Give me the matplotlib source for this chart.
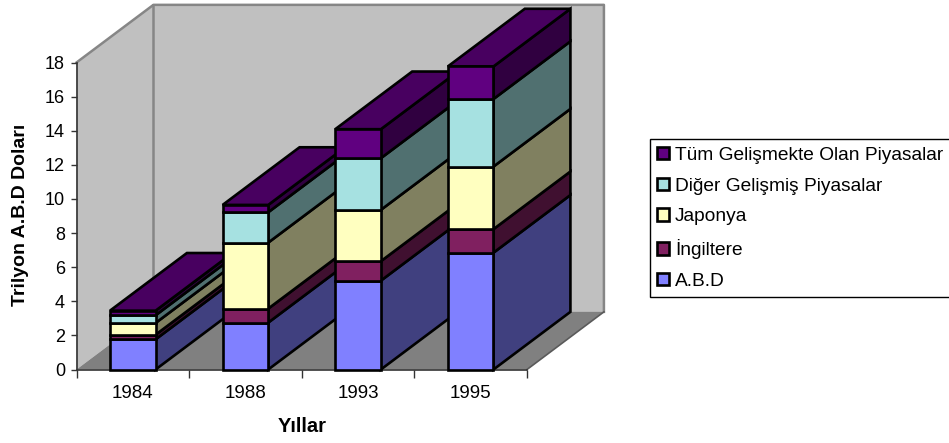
import numpy as np
import matplotlib
matplotlib.use("Agg")
import matplotlib.pyplot as plt
from matplotlib.patches import Polygon, Patch

plt.rcParams["font.family"] = ["Liberation Sans", "DejaVu Sans"]

years = ["1984", "1988", "1993", "1995"]
series_names = ["A.B.D", "İngiltere", "Japonya", "Diğer Gelişmiş Piyasalar", "Tüm Gelişmekte Olan Piyasalar"]

abd = [1.77, 2.75, 5.21, 6.85]
ingiltere = [0.27, 0.82, 1.14, 1.38]
japonya = [0.69, 3.87, 3.01, 3.67]
diger = [0.45, 1.78, 3.03, 3.96]
tum = [0.27, 0.43, 1.70, 1.91]

front_colors = ["#8080FF", "#802060", "#FFFFC0", "#A6E1E1", "#600080"]
side_colors = ["#40407F", "#401030", "#808060", "#507070", "#300040"]
top_color = "#480060"

# oblique depth of the fake 3D, in data units
depth_x = 0.683
depth_y = 3.38
bar_width = 0.405

fig = plt.figure(figsize=(9.49, 4.43), dpi=100)
ax = fig.add_axes([76.5 / 949, 1 - 369.5 / 443, 450.5 / 949, 307 / 443])
ax.set_xlim(0, 4)
ax.set_ylim(0, 18)
ax.patch.set_visible(False)


def poly(pts, color, edge="black", lw=1.9, z=2):
    ax.add_patch(Polygon(pts, closed=True, facecolor=color, edgecolor=edge, linewidth=lw,
                         joinstyle="miter", clip_on=False, zorder=z))


# walls and floor
poly([(0, 0), (depth_x, depth_y), (depth_x, 18 + depth_y), (0, 18)], "#C0C0C0", edge="none", lw=0, z=1)
poly([(depth_x, depth_y), (4 + depth_x, depth_y), (4 + depth_x, 18 + depth_y), (depth_x, 18 + depth_y)],
     "#C0C0C0", edge="none", lw=0, z=1)
poly([(0, 0), (4, 0), (4 + depth_x, depth_y), (depth_x, depth_y)], "#808080", edge="none", lw=0, z=1)
wall_kw = dict(color="#868686", lw=1.8, clip_on=False, zorder=1.5, solid_capstyle="projecting")
ax.plot([0, depth_x, 4 + depth_x, 4 + depth_x], [18, 18 + depth_y, 18 + depth_y, depth_y], **wall_kw)
ax.plot([depth_x, depth_x], [depth_y, 18 + depth_y], **wall_kw)
ax.plot([4, 4 + depth_x], [0, depth_y], color="#5A5A5A", lw=1.2, clip_on=False, zorder=1.5)

# stacked bars, left to right so later ones cover earlier ones
stack = np.array([abd, ingiltere, japonya, diger, tum])
for i in range(len(years)):
    x0 = i + 0.5 - bar_width / 2
    x1 = i + 0.5 + bar_width / 2
    z = 2 + i
    base = 0
    for j in range(len(series_names)):
        top = base + stack[j, i]
        poly([(x1, base), (x1 + depth_x, base + depth_y), (x1 + depth_x, top + depth_y), (x1, top)],
             side_colors[j], z=z)
        poly([(x0, base), (x1, base), (x1, top), (x0, top)], front_colors[j], z=z + 0.1)
        base = top
    poly([(x0, base), (x1, base), (x1 + depth_x, base + depth_y), (x0 + depth_x, base + depth_y)],
         top_color, z=z)

for s in ["top", "right"]:
    ax.spines[s].set_visible(False)
for s in ["left", "bottom"]:
    ax.spines[s].set_color("#333333")
    ax.spines[s].set_linewidth(1.2)
    ax.spines[s].set_zorder(1.8)

ax.set_yticks(range(0, 19, 2))
ax.tick_params(axis="y", length=4.3, width=1, color="#333333", labelsize=13, pad=4)
ax.set_xticks(range(0, 5))
ax.set_xticklabels([])
ax.set_xticks(np.arange(len(years)) + 0.5, labels=years, minor=True)
ax.tick_params(axis="x", which="major", length=6, width=1, color="#333333")
ax.tick_params(axis="x", which="minor", length=0, labelsize=13.5, pad=11)

ax.set_ylabel("Trilyon A.B.D Doları", fontsize=14, fontweight="bold")
ax.yaxis.set_label_coords(-47 / 450.5, 0.505)
ax.set_xlabel("Yıllar", fontsize=14.5, fontweight="bold")
ax.xaxis.set_label_coords(0.5, -48 / 307)

handles = [Patch(facecolor=c, edgecolor="black", linewidth=1.9) for c in front_colors]
leg = fig.legend(handles[::-1], series_names[::-1], loc="upper left",
                 bbox_to_anchor=(649.5 / 949, 1 - 139.5 / 443), bbox_transform=fig.transFigure,
                 fontsize=13.8, frameon=True, fancybox=False, edgecolor="black", framealpha=1,
                 handlelength=0.62, handleheight=0.62, handletextpad=0.32,
                 labelspacing=0.72, borderpad=0.38, borderaxespad=0)
leg.get_frame().set_linewidth(1)

fig.savefig("out.png", dpi=100)
